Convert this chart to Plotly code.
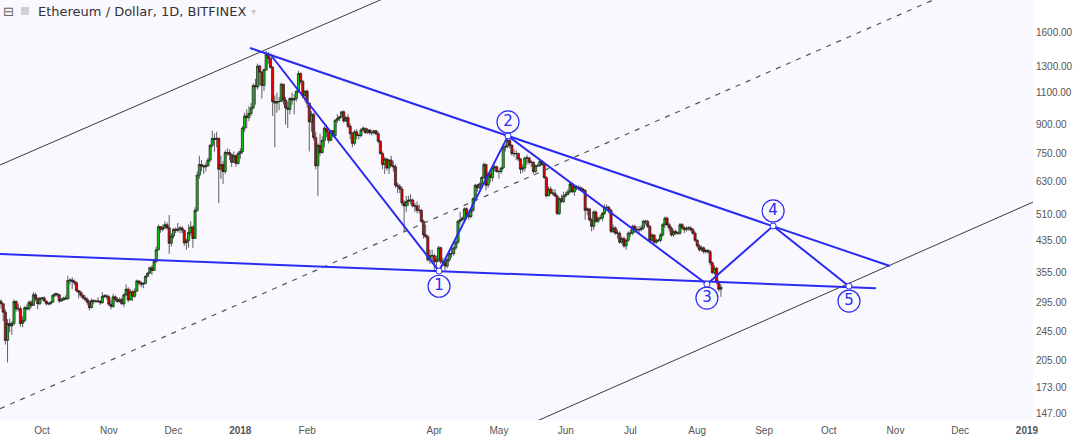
import math
import pandas as pd
import plotly.graph_objects as go

# ---------------- data: ETH/USD daily candles (Bitfinex), 2017-09-11 .. 2018-08-12
first_open = 299
closes = [
    296, 292, 277, 232, 258, 254, 258, 296, 283, 283, 258, 263, 285, 283, 295, 289, 309, 302, 292, 302,  # Sep 11-30
    303, 297, 292, 292, 295, 308, 311, 309, 297, 299, 303, 301, 338, 339, 336, 333, 317, 314, 308, 303, 300, 295, 285, 298, 297, 296, 297, 294, 306, 307, 305,  # Oct
    291, 287, 305, 300, 296, 300, 292, 309, 320, 299, 315, 306, 316, 337, 333, 330, 332, 347, 354, 366, 360, 381, 410, 474, 466, 471, 480, 471, 427, 447,  # Nov
    466, 463, 467, 470, 463, 428, 434, 457, 473, 440, 525, 655, 700, 695, 690, 695, 720, 790, 825, 820, 825, 680, 700, 670, 755, 755, 745, 710, 740, 705, 750,  # Dec
    760, 880, 950, 940, 965, 1000, 1150, 1140, 1300, 1250, 1150, 1270, 1400, 1365, 1290, 1040, 1030, 1040, 1040, 1160, 1050, 1000, 990, 1060, 1050, 1060, 1110, 1240, 1180, 1080, 1110,  # Jan
    1030, 915, 960, 830, 695, 790, 755, 815, 880, 860, 815, 865, 840, 925, 935, 945, 975, 920, 940, 890, 850, 800, 860, 840, 840, 870, 880, 855,  # Feb
    870, 855, 855, 865, 850, 810, 750, 700, 725, 685, 720, 695, 690, 615, 610, 600, 550, 540, 555, 560, 560, 540, 540, 525, 525, 490, 450, 445, 385, 395, 395,  # Mar
    380, 385, 415, 380, 380, 370, 385, 400, 400, 415, 430, 490, 495, 500, 530, 510, 505, 525, 565, 615, 605, 620, 645, 700, 615, 660, 645, 685, 690, 670,  # Apr
    670, 685, 780, 785, 815, 790, 750, 750, 750, 725, 680, 685, 730, 730, 710, 710, 670, 695, 695, 715, 700, 645, 575, 600, 585, 585, 575, 515, 565, 555, 575,  # May
    580, 590, 620, 590, 610, 605, 605, 600, 595, 525, 530, 495, 475, 520, 490, 500, 500, 515, 535, 535, 525, 460, 470, 455, 455, 430, 440, 420, 435, 455,  # Jun
    455, 475, 465, 465, 465, 470, 490, 490, 475, 435, 450, 430, 435, 435, 450, 480, 500, 480, 470, 450, 460, 455, 455, 480, 470, 465, 470, 470, 465, 455, 435,  # Jul
    420, 410, 415, 405, 408, 405, 378, 355, 365, 335, 320, 324,  # Aug 1-12
]
highs = [
    305, 300, 293, 282, 265, 266, 262, 300, 298, 292, 287, 270, 288, 292, 298, 298, 314, 313, 304, 305,
    305, 306, 298, 295, 297, 310, 313, 313, 310, 303, 305, 308, 348, 342, 345, 340, 336, 318, 317, 311, 308, 304, 298, 302, 300, 300, 304, 298, 314, 310, 310,
    308, 300, 311, 308, 304, 304, 304, 312, 330, 324, 320, 318, 322, 340, 338, 336, 334, 349, 356, 369, 372, 383, 418, 480, 476, 480, 490, 487, 510, 455,
    470, 472, 485, 475, 476, 465, 440, 480, 490, 477, 535, 670, 740, 720, 700, 710, 730, 795, 865, 850, 860, 830, 740, 715, 765, 775, 770, 750, 760, 745, 760,
    775, 890, 970, 990, 1010, 1030, 1165, 1200, 1320, 1310, 1260, 1280, 1430, 1420, 1370, 1300, 1080, 1100, 1070, 1170, 1160, 1070, 1040, 1070, 1100, 1090, 1115, 1260, 1250, 1190, 1115,
    1120, 1030, 980, 970, 860, 800, 850, 835, 890, 900, 860, 870, 870, 930, 960, 950, 980, 985, 950, 960, 905, 860, 870, 875, 850, 880, 890, 880,
    880, 875, 870, 870, 870, 860, 815, 760, 735, 730, 725, 740, 715, 700, 625, 620, 610, 560, 575, 575, 580, 565, 550, 555, 545, 530, 495, 480, 450, 410, 410,
    400, 395, 420, 418, 390, 385, 390, 405, 420, 418, 435, 495, 520, 505, 535, 535, 515, 530, 570, 620, 620, 625, 650, 710, 705, 665, 665, 690, 700, 695,
    675, 690, 790, 795, 835, 830, 795, 770, 765, 755, 730, 700, 735, 745, 735, 720, 715, 700, 705, 720, 720, 705, 650, 610, 610, 600, 600, 580, 570, 580, 590,
    590, 600, 625, 625, 615, 615, 615, 610, 605, 600, 535, 530, 500, 525, 525, 505, 510, 520, 545, 545, 540, 530, 480, 475, 465, 460, 445, 445, 440, 460,
    465, 480, 480, 475, 475, 478, 495, 495, 495, 478, 455, 450, 440, 440, 455, 485, 505, 505, 485, 475, 465, 465, 460, 485, 485, 475, 475, 475, 475, 470, 460,
    438, 425, 420, 418, 412, 412, 410, 380, 372, 368, 338, 330,
]
lows = [
    292, 283, 262, 226, 202, 244, 240, 255, 278, 278, 253, 252, 260, 280, 280, 285, 288, 297, 282, 290,
    298, 296, 289, 289, 290, 294, 305, 305, 294, 296, 298, 300, 300, 330, 320, 328, 314, 302, 304, 300, 296, 290, 280, 284, 292, 294, 294, 290, 292, 303, 300,
    288, 282, 285, 296, 294, 294, 290, 286, 307, 295, 298, 297, 303, 316, 328, 324, 322, 330, 345, 352, 350, 360, 378, 408, 456, 460, 466, 465, 400, 418,
    440, 455, 458, 455, 455, 420, 410, 415, 448, 415, 440, 520, 640, 670, 660, 670, 690, 710, 780, 760, 780, 550, 640, 620, 660, 740, 720, 690, 710, 690, 700,
    725, 750, 860, 880, 920, 950, 990, 1020, 1120, 1150, 1060, 1110, 1260, 1320, 1280, 950, 780, 970, 985, 1040, 1020, 900, 880, 960, 1020, 960, 1040, 1100, 1160, 1060, 1040,
    1000, 760, 860, 815, 680, 575, 740, 750, 780, 830, 800, 810, 830, 835, 910, 920, 940, 910, 915, 880, 820, 780, 790, 820, 820, 830, 860, 850,
    850, 845, 840, 845, 840, 800, 745, 680, 660, 675, 660, 690, 670, 605, 585, 585, 540, 460, 520, 540, 545, 535, 520, 515, 515, 485, 440, 440, 380, 375, 380,
    360, 365, 380, 375, 370, 360, 365, 380, 390, 395, 410, 425, 480, 490, 495, 505, 495, 500, 520, 565, 590, 600, 610, 640, 595, 605, 625, 630, 670, 665,
    640, 660, 680, 760, 775, 775, 740, 735, 720, 715, 660, 665, 670, 700, 700, 690, 660, 665, 690, 690, 695, 640, 570, 575, 580, 575, 570, 510, 510, 550, 550,
    570, 580, 585, 585, 575, 595, 595, 595, 590, 495, 510, 490, 460, 465, 485, 485, 495, 490, 510, 525, 515, 455, 455, 450, 440, 425, 425, 415, 410, 430,
    445, 450, 455, 455, 455, 460, 465, 480, 470, 430, 430, 425, 425, 430, 430, 445, 470, 475, 460, 445, 445, 450, 450, 450, 465, 455, 460, 462, 460, 450, 430,
    415, 405, 405, 400, 400, 400, 372, 352, 350, 330, 315, 305,
]
start_date = "2017-09-11"

# drawn trend lines (date, price) pairs
upper_channel_x = ["2017-09-02 05:00", "2018-03-28 05:00"]
upper_channel_y = [661, 2230]
mid_channel_x = ["2017-09-02 05:00", "2018-11-30 22:00"]
mid_channel_y = [142.9, 2119]
lower_channel_x = ["2018-05-01 12:00", "2019-01-16 08:00"]
lower_channel_y = [126.2, 596]

resistance_x = ["2018-01-05 12:00", "2018-10-29 10:00"]
resistance_y = [1456, 370]
support_x = ["2017-09-11 12:00", "2018-10-22 22:00"]
support_y = [399, 322]

wave_x = ["2018-01-14 19:00", "2018-04-03 05:00", "2018-05-05 05:00",
          "2018-08-05 12:00", "2018-09-05 05:00", "2018-10-10 10:00"]
wave_y = [1402, 358.6, 838, 330, 476, 326]

label_text = ["1", "2", "3", "4", "5"]
label_y = [326, 915, 302.7, 523, 297]

x_tick_dates = ["2017-10-01", "2017-11-01", "2017-12-01", "2018-01-01", "2018-02-01",
                "2018-04-01", "2018-05-01", "2018-06-01", "2018-07-01", "2018-08-01",
                "2018-09-01", "2018-10-01", "2018-11-01", "2018-12-01", "2019-01-01"]
x_tick_text = ["Oct", "Nov", "Dec", "<b>2018</b>", "Feb", "Apr", "May", "Jun", "Jul",
               "Aug", "Sep", "Oct", "Nov", "Dec", "<b>2019</b>"]
y_ticks = [147, 173, 205, 245, 295, 355, 435, 510, 630, 750, 900, 1100, 1300, 1600, 2000]

# ---------------- build
dates = pd.date_range(start_date, periods=len(closes), freq="D")
opens = [first_open] + closes[:-1]
highs_c = [max(h, o, c) for h, o, c in zip(highs, opens, closes)]
lows_c = [min(l, o, c) for l, o, c in zip(lows, opens, closes)]

BLUE = "#2a2af2"
fig = go.Figure()
fig.add_trace(go.Candlestick(
    x=dates, open=opens, high=highs_c, low=lows_c, close=closes,
    increasing=dict(fillcolor="#0fc00f", line=dict(color="#1b1b1b", width=0.7)),
    decreasing=dict(fillcolor="#e80000", line=dict(color="#1b1b1b", width=0.7)),
    whiskerwidth=0, showlegend=False, hoverinfo="skip",
))

fig.add_trace(go.Scatter(x=upper_channel_x, y=upper_channel_y, mode="lines",
                         line=dict(color="#3a3a3a", width=1), hoverinfo="skip"))
fig.add_trace(go.Scatter(x=lower_channel_x, y=lower_channel_y, mode="lines",
                         line=dict(color="#3a3a3a", width=1), hoverinfo="skip"))
fig.add_trace(go.Scatter(x=mid_channel_x, y=mid_channel_y, mode="lines",
                         line=dict(color="#555555", width=1.2, dash="5px,6px"), hoverinfo="skip"))
fig.add_trace(go.Scatter(x=resistance_x, y=resistance_y, mode="lines",
                         line=dict(color=BLUE, width=2), hoverinfo="skip"))
fig.add_trace(go.Scatter(x=support_x, y=support_y, mode="lines",
                         line=dict(color=BLUE, width=2), hoverinfo="skip"))
fig.add_trace(go.Scatter(x=wave_x, y=wave_y, mode="lines",
                         line=dict(color=BLUE, width=2), hoverinfo="skip"))
fig.add_trace(go.Scatter(x=wave_x[1:], y=wave_y[1:], mode="markers",
                         marker=dict(symbol="circle", size=6, color="white",
                                     line=dict(color=BLUE, width=1)), hoverinfo="skip"))
fig.add_trace(go.Scatter(x=wave_x[1:], y=label_y, mode="markers+text", text=label_text,
                         textposition="middle center",
                         textfont=dict(family="DejaVu Sans", size=15, color=BLUE),
                         marker=dict(symbol="circle", size=22, color="rgba(255,255,255,0)",
                                     line=dict(color=BLUE, width=1.2)), hoverinfo="skip"))

PLOT_W = 1033
PLOT_H = 420
fig.update_layout(
    width=1076, height=441,
    margin=dict(l=0, r=1076 - PLOT_W, t=0, b=441 - PLOT_H),
    paper_bgcolor="white", plot_bgcolor="#faf8ff",
    showlegend=False, boxgap=0.0, boxgroupgap=0.0,
    font=dict(family="Arial, Liberation Sans", size=10, color="#555555"),
    xaxis=dict(type="date", range=["2017-09-11 12:00", "2019-01-03 19:00"],
               tickvals=x_tick_dates, ticktext=x_tick_text,
               showgrid=False, zeroline=False, ticks="", rangeslider=dict(visible=False),
               ticklabelstandoff=3,
               tickfont=dict(size=10, color="#555555")),
    yaxis=dict(type="log", side="right",
               range=[math.log10(140.7), math.log10(1968)],
               tickvals=y_ticks, ticktext=[f"{v:.2f}" for v in y_ticks],
               showgrid=False, zeroline=False, ticks="", ticklabelstandoff=2,
               tickfont=dict(size=10, color="#555555")),
    annotations=[
        dict(xref="paper", yref="paper", x=36 / PLOT_W, y=1 - 11 / PLOT_H,
             xanchor="left", yanchor="middle", showarrow=False,
             text="Ethereum / Dollar, 1D, BITFINEX",
             font=dict(family="DejaVu Sans", size=13, color="#333333")),
        dict(xref="paper", yref="paper", x=249 / PLOT_W, y=1 - 11 / PLOT_H,
             xanchor="left", yanchor="middle", showarrow=False, text="▾",
             font=dict(family="DejaVu Sans", size=10, color="#c8c8c8")),
        dict(xref="paper", yref="paper", x=1 / PLOT_W, y=1 - 11 / PLOT_H,
             xanchor="left", yanchor="middle", showarrow=False, text="⊟",
             font=dict(family="DejaVu Sans", size=13, color="#666666")),
    ],
    shapes=[
        dict(type="rect", xref="paper", yref="paper", x0=21 / PLOT_W, x1=29 / PLOT_W,
             y0=1 - 15 / PLOT_H, y1=1 - 7 / PLOT_H, fillcolor="#d0d0d0", line=dict(width=0)),
    ],
)

fig.write_html("out.html", config={"displayModeBar": False},
               post_script="document.body.style.margin='0';")
